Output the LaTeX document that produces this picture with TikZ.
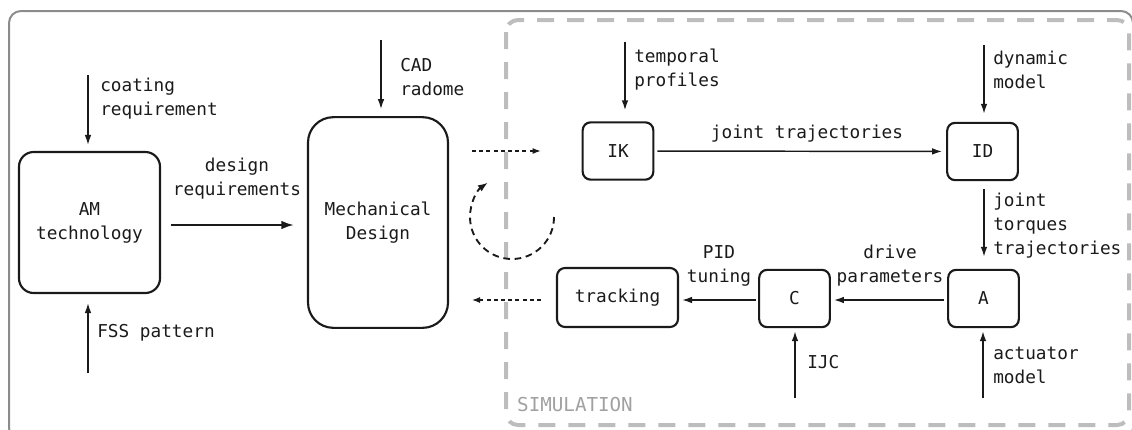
\documentclass[tikz,border=0pt]{standalone}
\usepackage{fontspec}
\setmonofont{DejaVu Sans Mono}
\usetikzlibrary{arrows.meta}

\definecolor{framegray}{HTML}{8C8C8C}
\definecolor{simgray}{HTML}{BDBDBD}
\definecolor{inkblack}{HTML}{1A1A1A}

\begin{document}
\begin{tikzpicture}[
  x=0.75pt, y=-0.75pt,
  font=\ttfamily\fontsize{13.3}{18}\selectfont,
  block/.style={draw=inkblack, line width=1.6pt, rounded corners=6pt, align=center, minimum width=53pt, minimum height=43pt, inner sep=2pt, text=inkblack},
  lbl/.style={inner sep=0pt, align=left, text=inkblack},
  arrow/.style={-{Latex[length=7.5pt,width=5pt]}, line width=1.1pt, draw=inkblack},
  bigarrow/.style={-{Latex[length=9.5pt,width=6.5pt]}, line width=1.5pt, draw=inkblack},
  simlink/.style={-{Latex[length=6pt,width=4.5pt]}, line width=0.8pt, draw=inkblack, dash pattern=on 3pt off 2.4pt},
  loopar/.style={-{Latex[length=7.5pt,width=5.5pt]}, line width=1.4pt, draw=inkblack, dash pattern=on 5pt off 3.5pt}
]
\useasboundingbox (0,0) rectangle (1132,429);
\clip (0,0) rectangle (1132,429);
\draw[framegray, line width=1.5pt, rounded corners=9pt] (9,11) rectangle (1133,440);
\draw[simgray, line width=3pt, rounded corners=9pt, dash pattern=on 12.75pt off 9.75pt] (506,20) rectangle (1129,425);
\node[text=simgray!85!black, inner sep=0pt, font=\ttfamily\fontsize{14.4}{18}\selectfont] (simlabel) at (575,405) {SIMULATION};

\node[block, rounded corners=11pt, minimum width=105.75pt, minimum height=105.75pt] (am) at (89.5,222.5) {AM\\technology};
\node[block, rounded corners=19pt, minimum width=105pt, minimum height=158pt] (mech) at (378,222.5) {Mechanical\\Design};
\node[block] (ik) at (618,151) {IK};
\node[block] (id) at (982.5,151.5) {ID};
\node[block] (act) at (983.5,298.5) {A};
\node[block] (ctrl) at (794.5,298.5) {C};
\node[block, minimum width=90.75pt, minimum height=44.25pt] (track) at (617.5,297.5) {tracking};

\coordinate (coatin) at (88,75);
\coordinate (fssin) at (88,373);
\coordinate (cadin) at (381,40);
\coordinate (tempin) at (625,42);
\coordinate (dynin) at (984,45);
\coordinate (ijcin) at (795,398);
\coordinate (actin) at (983,398);
\coordinate (loopstart) at (554,217);

\draw[arrow, shorten >=4.5pt] (coatin) -- (coatin |- am.north);
\draw[arrow, shorten >=6.75pt] (fssin) -- (fssin |- am.south);
\draw[arrow, shorten >=5.25pt] (cadin) -- (cadin |- mech.north);
\draw[bigarrow, shorten <=7.5pt, shorten >=9.75pt] (am.east |- 0,225) -- (mech.west |- 0,225);
\draw[simlink, shorten <=17.25pt, shorten >=30.75pt] (mech.east |- ik) -- (ik);
\draw[simlink, shorten <=11.25pt, shorten >=17.25pt] (track.west |- 0,300) -- (mech.east |- 0,300);
\draw[loopar] (loopstart) arc[start angle=0, end angle=235, radius=42];
\draw[arrow, shorten >=8.25pt] (tempin) -- (tempin |- ik.north);
\draw[arrow, shorten <=2.25pt, shorten >=3pt] (ik) -- (id);
\draw[arrow, shorten >=6pt] (dynin) -- (dynin |- id.north);
\draw[arrow, shorten <=6pt, shorten >=9pt] (id.south -| dynin) -- (act.north -| dynin);
\draw[arrow, shorten <=2.25pt, shorten >=2.25pt] (act.west |- 0,300) -- (ctrl.east |- 0,300);
\draw[arrow, shorten <=1.5pt, shorten >=2.25pt] (ctrl.west |- 0,300) -- (track.east |- 0,300);
\draw[arrow, shorten >=2.25pt] (ijcin) -- (ijcin |- ctrl.south);
\draw[arrow, shorten >=2.25pt] (actin) -- (actin |- act.south);

\node[lbl, anchor=west] (coatlbl) at (100,98.5) {coating\\requirement};
\node[lbl, anchor=west] (fsslbl) at (97,333) {FSS pattern};
\node[lbl, anchor=west] (cadlbl) at (400,77) {CAD\\radome};
\node[lbl, align=center] (desreq) at (237,179) {design\\requirements};
\node[lbl, anchor=west] (templbl) at (634,70) {temporal\\profiles};
\node[lbl] (jtraj) at (807,134) {joint trajectories};
\node[lbl, anchor=west] (dynlbl) at (993,70) {dynamic\\model};
\node[lbl, anchor=west] (torqlbl) at (993,226) {joint\\torques\\trajectories};
\node[lbl, align=center] (drvlbl) at (890,266) {drive\\parameters};
\node[lbl, align=center] (pidlbl) at (719,266) {PID\\tuning};
\node[lbl, anchor=west] (ijclbl) at (807,362) {IJC};
\node[lbl, anchor=west] (actlbl) at (993,365) {actuator\\model};
\end{tikzpicture}
\end{document}
